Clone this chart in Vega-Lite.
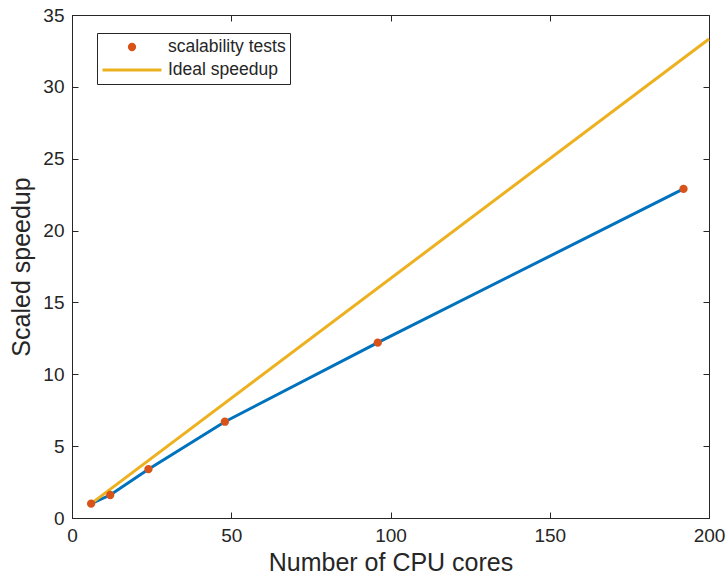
{
  "$schema": "https://vega.github.io/schema/vega-lite/v6.json",
  "width": 637,
  "height": 503,
  "autosize": {"type": "none"},
  "padding": {"left": 72, "top": 15, "right": 16, "bottom": 64},
  "background": "white",
  "config": {
    "font": "Liberation Sans",
    "view": {"stroke": "#262626", "strokeWidth": 1},
    "axis": {
      "grid": false,
      "domainColor": "#262626",
      "tickColor": "#262626",
      "labelColor": "#262626",
      "titleColor": "#262626",
      "labelFont": "Liberation Sans",
      "titleFont": "Liberation Sans",
      "labelFontSize": 19,
      "titleFontSize": 25,
      "titleFontWeight": "normal",
      "tickSize": -6,
      "labelPadding": 14,
      "labelFlush": false,
      "labelOverlap": false
    },
    "legend": {
      "title": null,
      "orient": "none",
      "legendX": 25,
      "legendY": 18,
      "strokeColor": "#262626",
      "fillColor": "white",
      "padding": 4,
      "cornerRadius": 0,
      "labelFont": "Liberation Sans",
      "labelFontSize": 17.5,
      "labelColor": "#262626",
      "labelOffset": 5,
      "rowPadding": 3,
      "clipHeight": 20,
      "symbolStrokeWidth": 3,
      "symbolOpacity": 1
    }
  },
  "datasets": {
    "tests": [
      {"cores": 6, "speedup": 1.0, "series": "scalability tests"},
      {"cores": 12, "speedup": 1.6, "series": "scalability tests"},
      {"cores": 24, "speedup": 3.4, "series": "scalability tests"},
      {"cores": 48, "speedup": 6.7, "series": "scalability tests"},
      {"cores": 96, "speedup": 12.2, "series": "scalability tests"},
      {"cores": 192, "speedup": 22.9, "series": "scalability tests"}
    ],
    "ideal": [
      {"cores": 6, "speedup": 1.0, "series": "Ideal speedup"},
      {"cores": 200, "speedup": 33.33, "series": "Ideal speedup"}
    ]
  },
  "resolve": {"axis": {"x": "independent", "y": "independent"}},
  "layer": [
    {
      "data": {"name": "tests"},
      "mark": {"type": "line", "color": "#0072BD", "strokeWidth": 3},
      "encoding": {
        "x": {
          "field": "cores", "type": "quantitative",
          "scale": {"domain": [0, 200], "nice": false},
          "axis": {"values": [0, 50, 100, 150, 200], "title": "Number of CPU cores", "titlePadding": 5}
        },
        "y": {
          "field": "speedup", "type": "quantitative",
          "scale": {"domain": [0, 35], "nice": false},
          "axis": {"values": [0, 5, 10, 15, 20, 25, 30, 35], "title": "Scaled speedup", "titlePadding": 8}
        }
      }
    },
    {
      "data": {"name": "ideal"},
      "mark": {"type": "line", "color": "#EDB120", "strokeWidth": 3},
      "encoding": {
        "x": {"field": "cores", "type": "quantitative", "scale": {"domain": [0, 200], "nice": false}, "axis": null},
        "y": {"field": "speedup", "type": "quantitative", "scale": {"domain": [0, 35], "nice": false}, "axis": null}
      }
    },
    {
      "data": {"name": "tests"},
      "mark": {"type": "point", "filled": true, "opacity": 1, "strokeWidth": 3},
      "encoding": {
        "x": {"field": "cores", "type": "quantitative", "scale": {"domain": [0, 200], "nice": false}, "axis": null},
        "y": {"field": "speedup", "type": "quantitative", "scale": {"domain": [0, 35], "nice": false}, "axis": null},
        "color": {
          "field": "series", "type": "nominal",
          "scale": {"domain": ["scalability tests", "Ideal speedup"], "range": ["#D95319", "#EDB120"]},
          "legend": {"title": null}
        },
        "stroke": {
          "field": "series", "type": "nominal",
          "scale": {"domain": ["scalability tests", "Ideal speedup"], "range": ["#D95319", "#EDB120"]},
          "legend": {"title": null}
        },
        "shape": {
          "field": "series", "type": "nominal",
          "scale": {"domain": ["scalability tests", "Ideal speedup"], "range": ["circle", "stroke"]},
          "legend": {"title": null}
        },
        "size": {
          "field": "series", "type": "nominal",
          "scale": {"type": "ordinal", "domain": ["scalability tests", "Ideal speedup"], "range": [28, 3481]},
          "legend": {"title": null}
        }
      }
    },
    {
      "data": {"name": "tests"},
      "mark": {"type": "point", "opacity": 0},
      "encoding": {
        "x": {
          "field": "cores", "type": "quantitative",
          "scale": {"domain": [0, 200], "nice": false},
          "axis": {"orient": "top", "values": [0, 50, 100, 150, 200], "labels": false, "title": null, "domain": false}
        },
        "y": {
          "field": "speedup", "type": "quantitative",
          "scale": {"domain": [0, 35], "nice": false},
          "axis": {"orient": "right", "values": [0, 5, 10, 15, 20, 25, 30, 35], "labels": false, "title": null, "domain": false}
        }
      }
    }
  ]
}
